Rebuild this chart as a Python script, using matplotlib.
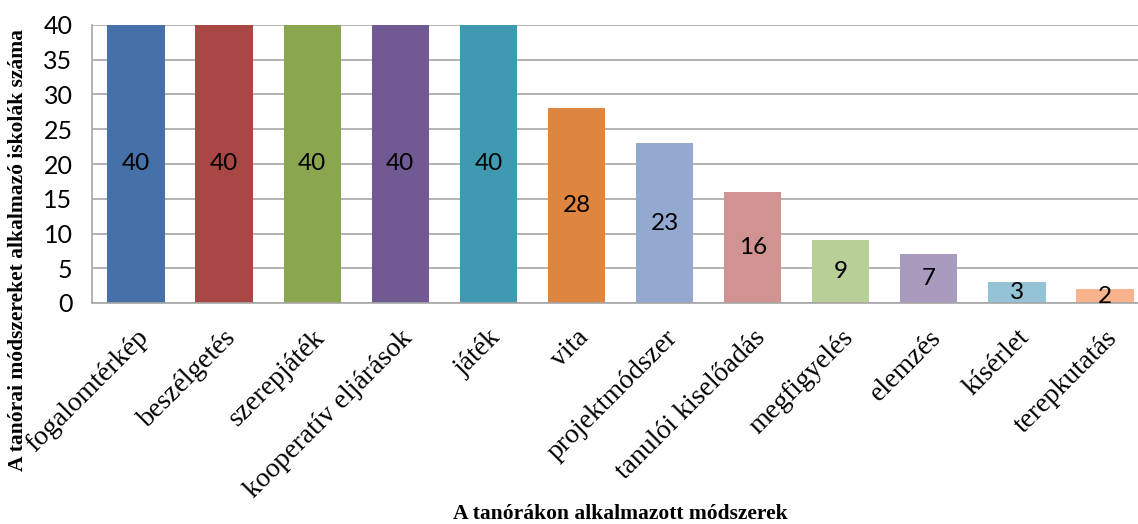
import numpy as np
import matplotlib.pyplot as plt

methods = ["fogalomtérkép", "beszélgetés", "szerepjáték", "kooperatív eljárások",
           "játék", "vita", "projektmódszer", "tanulói kiselőadás", "megfigyelés",
           "elemzés", "kísérlet", "terepkutatás"]
counts = [40, 40, 40, 40, 40, 28, 23, 16, 9, 7, 3, 2]
colors = ["#4671A8", "#A94745", "#8AA64E", "#715A94", "#3F99B1", "#DE8640",
          "#93A9D0", "#D19392", "#B9CF98", "#A99BBD", "#93C3D5", "#F8B38D"]

fig = plt.figure(figsize=(11.38, 5.24), dpi=100)
W, H = 1138, 524
ax = fig.add_axes([92 / W, 1 - 303 / H, (1149 - 92) / W, (303 - 25) / H])

x = np.arange(len(methods))
bars = ax.bar(x, counts, width=0.65, color=colors, zorder=2)
for b, v in zip(bars, counts):
    ax.text(b.get_x() + b.get_width() / 2, v / 2, str(v), ha="center", va="center",
            fontsize=17.5, family="Lato", color="black", zorder=3)

ax.set_xlim(-0.5, len(methods) - 0.5)
ax.set_ylim(0, 40)
ax.set_yticks(range(0, 41, 5))
ax.yaxis.grid(True, color="#A6A6A6", linewidth=1.2, zorder=0)
ax.tick_params(axis="y", length=0, labelsize=18, pad=14)
for lab in ax.get_yticklabels():
    lab.set_family("Lato")
ax.set_xticks(x)
ax.set_xticklabels(methods, rotation=45, ha="right", va="top", rotation_mode="anchor",
                   family="Liberation Serif", fontsize=20)
ax.tick_params(axis="x", length=0, pad=16)
for s in ["top", "right"]:
    ax.spines[s].set_visible(False)
for s in ["left", "bottom"]:
    ax.spines[s].set_color("#A6A6A6")
    ax.spines[s].set_linewidth(1.2)

fig.text(18 / W, 1 - 250 / H, "A tanórai módszereket alkalmazó iskolák száma", rotation=90,
         ha="center", va="center", family="Liberation Serif", fontweight="bold", fontsize=15.5)
fig.text(620 / W, 1 - 514 / H, "A tanórákon alkalmazott módszerek", ha="center", va="center",
         family="Liberation Serif", fontweight="bold", fontsize=15.5)

fig.savefig("out.png", dpi=100)
